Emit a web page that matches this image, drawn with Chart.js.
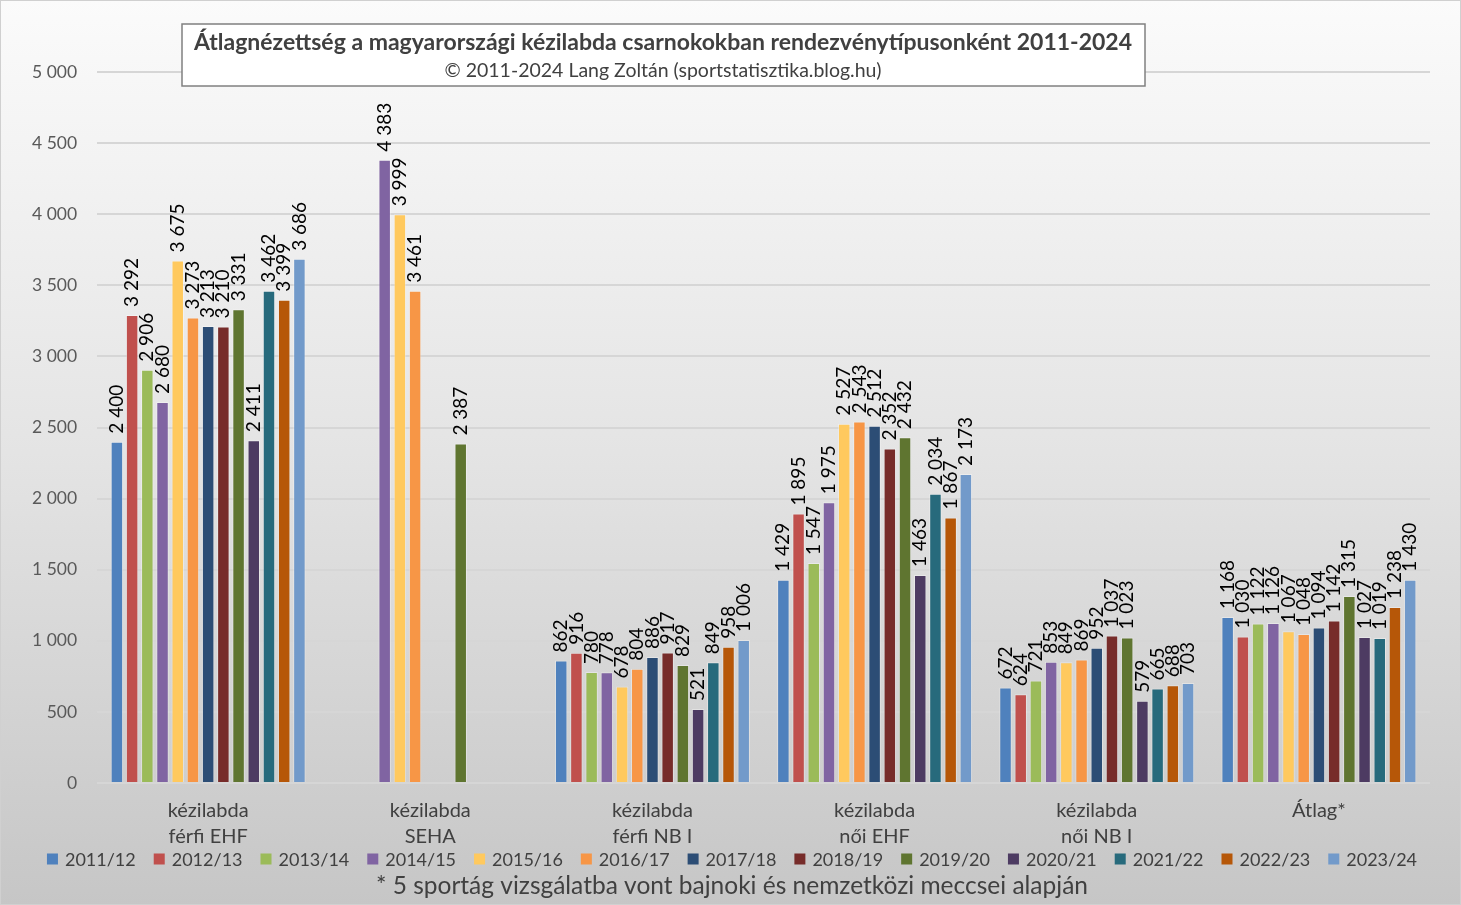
<!DOCTYPE html>
<html>
<head>
<meta charset="utf-8">
<script src="https://cdn.jsdelivr.net/npm/chart.js@4.4.1/dist/chart.umd.min.js"></script>
<style>
  html, body { margin: 0; padding: 0; }
  #wrap { width: 1461px; height: 905px; }
</style>
</head>
<body>
<div id="wrap"><canvas id="chart"></canvas></div>
<script>
    // categories (multi-line labels) and seasons
    const categories = [
        ['kézilabda', 'férfi EHF'],
        ['kézilabda', 'SEHA'],
        ['kézilabda', 'férfi NB I'],
        ['kézilabda', 'női EHF'],
        ['kézilabda', 'női NB I'],
        'Átlag*'
    ];
    const seasons = ['2011/12', '2012/13', '2013/14', '2014/15', '2015/16', '2016/17', '2017/18',
                     '2018/19', '2019/20', '2020/21', '2021/22', '2022/23', '2023/24'];
    const colors = ['#4F81BD', '#C0504D', '#9BBB59', '#8064A2', '#FFC95E', '#F79646', '#2C4D75',
                    '#772C2A', '#5F7530', '#4D3B62', '#276A7C', '#B65708', '#729ACA'];

    // values per category, one entry per season (null = no data)
    const ferfiEHF = [2400, 3292, 2906, 2680, 3675, 3273, 3213, 3210, 3331, 2411, 3462, 3399, 3686];
    const seha     = [null, null, null, 4383, 3999, 3461, null, null, 2387, null, null, null, null];
    const ferfiNB1 = [862, 916, 780, 778, 678, 804, 886, 917, 829, 521, 849, 958, 1006];
    const noiEHF   = [1429, 1895, 1547, 1975, 2527, 2543, 2512, 2352, 2432, 1463, 2034, 1867, 2173];
    const noiNB1   = [672, 624, 721, 853, 849, 869, 952, 1037, 1023, 579, 665, 688, 703];
    const atlag    = [1168, 1030, 1122, 1126, 1067, 1048, 1094, 1142, 1315, 1027, 1019, 1238, 1430];

    const yTicks = [0, 500, 1000, 1500, 2000, 2500, 3000, 3500, 4000, 4500, 5000];

    const titleText = 'Átlagnézettség a magyarországi kézilabda csarnokokban rendezvénytípusonként 2011-2024';
    const subtitleText = '© 2011-2024 Lang Zoltán (sportstatisztika.blog.hu)';
    const footnote = '* 5 sportág vizsgálatba vont bajnoki és nemzetközi meccsei alapján';

    const FONT = 'Lato, "Open Sans", sans-serif';

    function fmt(v) {
        return String(v).replace(/\B(?=(\d{3})+(?!\d))/g, ' ');
    }

    // build datasets: one per season
    const groups = [ferfiEHF, seha, ferfiNB1, noiEHF, noiNB1, atlag];
    const datasets = seasons.map((s, i) => ({
        label: s,
        data: groups.map(g => g[i]),
        backgroundColor: colors[i],
        borderColor: 'rgba(255,255,255,0.35)',
        borderWidth: 1,
        categoryPercentage: 0.89,
        barPercentage: 0.82
    }));

    // gradient background + outer frame
    const backgroundPlugin = {
        id: 'bg',
        beforeDraw(chart) {
            const ctx = chart.ctx;
            const g = ctx.createLinearGradient(0, 0, 0, chart.height);
            g.addColorStop(0, '#fbfbfb');
            g.addColorStop(0.5, '#e4e4e4');
            g.addColorStop(1, '#c6c6c6');
            ctx.save();
            ctx.fillStyle = g;
            ctx.fillRect(0, 0, chart.width, chart.height);
            ctx.strokeStyle = '#d0d0d0';
            ctx.lineWidth = 1;
            ctx.strokeRect(0.5, 0.5, chart.width - 1, chart.height - 1);
            ctx.restore();
        }
    };

    // rotated value labels on top of bars
    const valueLabels = {
        id: 'valueLabels',
        afterDatasetsDraw(chart) {
            const ctx = chart.ctx;
            ctx.save();
            ctx.font = '19px ' + FONT;
            ctx.fillStyle = '#000';
            ctx.textAlign = 'left';
            ctx.textBaseline = 'middle';
            chart.data.datasets.forEach((ds, i) => {
                const meta = chart.getDatasetMeta(i);
                meta.data.forEach((bar, j) => {
                    const v = ds.data[j];
                    if (v === null || v === undefined) return;
                    ctx.save();
                    ctx.translate(bar.x, bar.y - 8);
                    ctx.rotate(-Math.PI / 2);
                    ctx.fillText(fmt(v), 0, 0);
                    ctx.restore();
                });
            });
            ctx.restore();
        }
    };

    // boxed title on top, legend row and footnote at the bottom
    const textPlugin = {
        id: 'texts',
        afterDraw(chart) {
            const ctx = chart.ctx;
            ctx.save();
            ctx.fillStyle = '#ffffff';
            ctx.fillRect(182, 24, 963, 62);
            ctx.strokeStyle = '#808080';
            ctx.lineWidth = 1.5;
            ctx.strokeRect(182, 24, 963, 62);
            ctx.fillStyle = '#404040';
            ctx.textAlign = 'center';
            ctx.textBaseline = 'middle';
            ctx.font = 'bold 23px ' + FONT;
            ctx.fillText(titleText, 663, 43);
            ctx.font = '19.5px ' + FONT;
            ctx.fillText(subtitleText, 663, 71);

            // legend
            ctx.font = '18px ' + FONT;
            const box = 11, gapText = 7, gapItem = 18;
            const widths = chart.data.datasets.map(d => box + gapText + ctx.measureText(d.label).width);
            const total = widths.reduce((a, b) => a + b, 0) + gapItem * (widths.length - 1);
            let x = 732 - total / 2;
            const ly = 859;
            ctx.textAlign = 'left';
            chart.data.datasets.forEach((d, i) => {
                ctx.fillStyle = d.backgroundColor;
                ctx.fillRect(x, ly - box / 2, box, box);
                ctx.fillStyle = '#404040';
                ctx.fillText(d.label, x + box + gapText, ly + 1);
                x += widths[i] + gapItem;
            });

            // footnote
            ctx.textAlign = 'center';
            ctx.font = '24.5px ' + FONT;
            ctx.fillText(footnote, 732, 886);
            ctx.restore();
        }
    };

    new Chart(document.getElementById('chart'), {
        type: 'bar',
        data: { labels: categories, datasets: datasets },
        plugins: [backgroundPlugin, valueLabels, textPlugin],
        options: {
            responsive: true,
            maintainAspectRatio: false,
            animation: false,
            layout: { padding: { top: 72, left: 12, right: 31, bottom: 48 } },
            scales: {
                x: {
                    grid: { display: false },
                    border: { display: false },
                    ticks: {
                        color: '#404040',
                        font: { family: FONT, size: 20, lineHeight: 1.3 },
                        padding: 7,
                        maxRotation: 0
                    }
                },
                y: {
                    min: 0,
                    max: 5000,
                    afterBuildTicks(axis) { axis.ticks = yTicks.map(v => ({ value: v })); },
                    grid: { color: '#d6d6d6', lineWidth: 2, drawTicks: false },
                    border: { display: false },
                    ticks: {
                        color: '#595959',
                        font: { family: FONT, size: 17.5 },
                        padding: 20,
                        callback: v => fmt(v)
                    }
                }
            },
            plugins: {
                legend: { display: false },
                title: { display: false },
                tooltip: { enabled: false }
            }
        }
    });
</script>
</body>
</html>
